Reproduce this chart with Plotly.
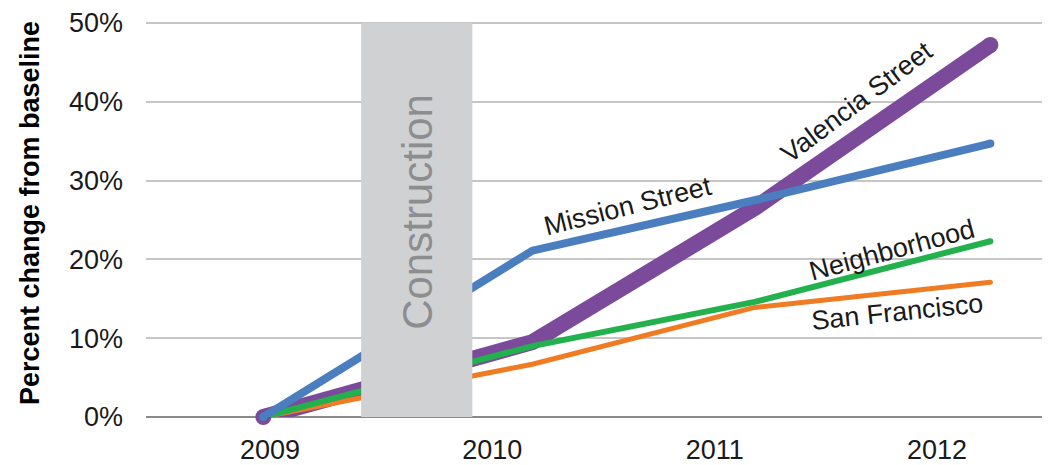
import plotly.graph_objects as go

# Data (percent change from baseline)
x_pts = [2008.97, 2010.18, 2011.18, 2012.24]
mission = [0.0, 21.1, 27.5, 34.7]
valencia = [0.0, 9.5, 26.5, 47.2]
neighborhood = [0.0, 9.0, 14.6, 22.3]
san_francisco = [0.0, 6.7, 13.9, 17.1]
year_ticks = [2009, 2010, 2011, 2012]
year_labels = ["2009", "2010", "2011", "2012"]
y_ticks = [0, 10, 20, 30, 40, 50]
y_labels = ["0%", "10%", "20%", "30%", "40%", "50%"]
construction = [2009.41, 2009.91]

FONT = "Liberation Sans, Arial, sans-serif"

# page body has an 8px margin, so the figure is drawn 8px smaller / offset
W, H = 1042, 457
Y_TOP = 50.5
ML, MT, MB, MR = 138, 8, 47, 0
PW = W - ML - MR
PH = H - MT - MB

fig = go.Figure()
series = [
    ("Valencia Street", valencia, "#7b4a9b", 16),
    ("San Francisco", san_francisco, "#ef7b23", 5),
    ("Neighborhood", neighborhood, "#22b14c", 6),
    ("Mission Street", mission, "#4a7ebf", 8),
]
for name, vals, col, w in series:
    fig.add_trace(go.Scatter(x=x_pts, y=vals, mode="lines", name=name,
                             line=dict(color=col, width=w), showlegend=False))
    # round end caps
    fig.add_trace(go.Scatter(x=[x_pts[0], x_pts[-1]], y=[vals[0], vals[-1]], mode="markers",
                             marker=dict(color=col, size=w, line=dict(width=0)),
                             cliponaxis=False, showlegend=False, hoverinfo="skip"))

fig.add_shape(type="rect", xref="x", yref="y", x0=construction[0], x1=construction[1],
              y0=0, y1=50, fillcolor="#d0d1d3", line=dict(width=0), layer="above")

fig.add_annotation(x=sum(construction) / 2, y=26, xref="x", yref="y", text="Construction",
                   textangle=-90, showarrow=False, font=dict(family=FONT, size=42, color="#8c8d8f"))

labels = [
    ("Mission Street", 628, 205, -14),
    ("Valencia Street", 857, 100, -37),
    ("Neighborhood", 892, 249, -15),
    ("San Francisco", 897, 312, -6),
]
px_per_year = (937 - 270) / 3.0
for text, px, py, ang in labels:
    xv = 2009 + (px - 270) / px_per_year
    yv = (418 - py) / 7.96
    fig.add_annotation(x=xv, y=yv, xref="x", yref="y", text=text, textangle=ang,
                       showarrow=False, font=dict(family=FONT, size=27, color="#1a1a1a"))

fig.add_annotation(x=(22 - ML) / PW, y=(H - MB - 204) / PH, xref="paper", yref="paper",
                   xanchor="center", yanchor="middle",
                   text="<b>Percent change from baseline</b>", textangle=-90, showarrow=False,
                   font=dict(family=FONT, size=27, color="#000000"))

x0 = 2009 - (270 - 146) / px_per_year
x1 = 2012 + (1050 - 937) / px_per_year
fig.update_layout(
    width=W, height=H,
    margin=dict(l=ML, r=MR, t=MT, b=MB),
    paper_bgcolor="white", plot_bgcolor="white",
    font=dict(family=FONT, size=27, color="#1a1a1a"),
    xaxis=dict(range=[x0, x1], tickvals=year_ticks, ticktext=year_labels, showgrid=False,
               zeroline=False, showline=False, ticks="", ticklen=0, ticklabelstandoff=14),
    yaxis=dict(range=[0, Y_TOP], tickvals=y_ticks, ticktext=y_labels, showgrid=True,
               gridcolor="#c6c6c6", gridwidth=2, zeroline=True, zerolinecolor="#8a8a8a",
               zerolinewidth=2, showline=False, ticks="", ticklen=0, ticklabelstandoff=22,
               ticklabeloverflow="allow"),
)

fig.write_html("out.html")
